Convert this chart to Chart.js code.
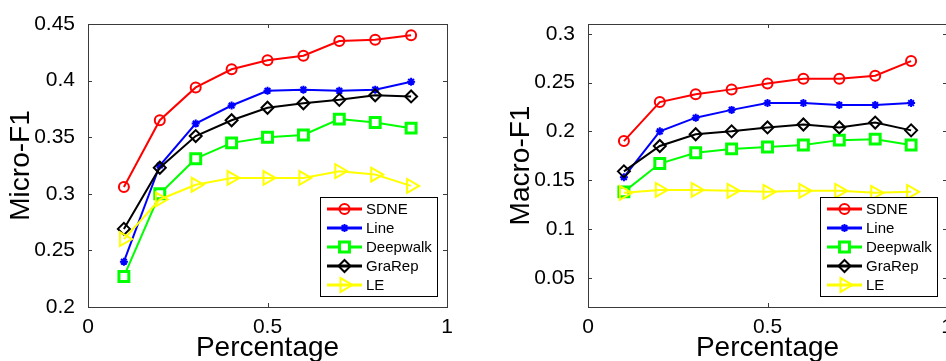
<!DOCTYPE html>
<html>
<head>
<meta charset="utf-8">
<script src="https://cdn.jsdelivr.net/npm/chart.js"></script>
<style>
  body { margin: 0; width: 946px; height: 361px; overflow: hidden; background: #fff; position: relative; }
  canvas { position: absolute; top: 0; }
  #micro { left: 0; }
  #macro { left: 500px; }
</style>
</head>
<body>
<canvas id="micro" width="470" height="361"></canvas>
<canvas id="macro" width="470" height="361"></canvas>
<script>
// training percentage on the x axis
const percentages = [0.1, 0.2, 0.3, 0.4, 0.5, 0.6, 0.7, 0.8, 0.9];
const methods = ["SDNE", "Line", "Deepwalk", "GraRep", "LE"];

// Micro-F1
const microSDNE = [0.306, 0.365, 0.394, 0.410, 0.418, 0.422, 0.435, 0.436, 0.440];
const microLine = [0.240, 0.325, 0.362, 0.378, 0.391, 0.392, 0.391, 0.392, 0.399];
const microDeepwalk = [0.227, 0.300, 0.331, 0.345, 0.350, 0.352, 0.366, 0.363, 0.358];
const microGraRep = [0.269, 0.323, 0.351, 0.365, 0.376, 0.380, 0.383, 0.387, 0.386];
const microLE = [0.260, 0.295, 0.308, 0.314, 0.314, 0.314, 0.320, 0.317, 0.307];

// Macro-F1
const macroSDNE = [0.190, 0.230, 0.238, 0.243, 0.249, 0.254, 0.254, 0.257, 0.272];
const macroLine = [0.153, 0.200, 0.214, 0.222, 0.229, 0.229, 0.227, 0.227, 0.229];
const macroDeepwalk = [0.138, 0.167, 0.178, 0.182, 0.184, 0.186, 0.191, 0.192, 0.186];
const macroGraRep = [0.159, 0.185, 0.197, 0.200, 0.204, 0.207, 0.204, 0.209, 0.201];
const macroLE = [0.137, 0.140, 0.140, 0.139, 0.138, 0.139, 0.139, 0.137, 0.138];

const xTicks = [0, 0.5, 1];
const microTicks = [0.2, 0.25, 0.3, 0.35, 0.4, 0.45];
const macroTicks = [0.05, 0.1, 0.15, 0.2, 0.25, 0.3];

const FONT = "'Liberation Sans', Arial, Helvetica, sans-serif";
Chart.defaults.font.family = FONT;

const looks = [
  { color: "#ff0000", pointStyle: "circle", radius: 5, bw: 2, bg: "rgba(255,255,255,0)", rot: 0 },
  { color: "#0000ff", pointStyle: "star", radius: 4, bw: 2, bg: "#0000ff", rot: 0 },
  { color: "#00ff00", pointStyle: "rect", radius: 7, bw: 3, bg: "#ffffff", rot: 0 },
  { color: "#000000", pointStyle: "rectRot", radius: 6, bw: 2, bg: "rgba(255,255,255,0)", rot: 0 },
  { color: "#ffff00", pointStyle: "triangle", radius: 8, bw: 2, bg: "rgba(255,255,255,0)", rot: 90 },
];

// matlab style box, inward ticks and legend inside the axes
const matlabBox = {
  id: "matlabBox",
  beforeDatasetsDraw(chart) {
    const { ctx, chartArea: a, scales } = chart;
    ctx.save();
    ctx.strokeStyle = "#3a3a3a";
    ctx.lineWidth = 1;
    ctx.strokeRect(a.left + 0.5, a.top + 0.5, a.right - a.left, a.bottom - a.top);
    ctx.beginPath();
    scales.x.ticks.forEach((t) => {
      const px = Math.round(scales.x.getPixelForValue(t.value)) + 0.5;
      ctx.moveTo(px, a.bottom); ctx.lineTo(px, a.bottom - 4);
      ctx.moveTo(px, a.top); ctx.lineTo(px, a.top + 4);
    });
    scales.y.ticks.forEach((t) => {
      const py = Math.round(scales.y.getPixelForValue(t.value)) + 0.5;
      ctx.moveTo(a.left, py); ctx.lineTo(a.left + 4, py);
      ctx.moveTo(a.right, py); ctx.lineTo(a.right - 4, py);
    });
    ctx.stroke();
    ctx.restore();
  },
  afterDatasetsDraw(chart) {
    const { ctx, chartArea: a } = chart;
    const w = 117, h = 99;
    const lx = Math.round(a.right - 10 - w), ly = Math.round(a.bottom - 11 - h);
    ctx.save();
    ctx.fillStyle = "#fff";
    ctx.fillRect(lx, ly, w, h);
    ctx.strokeStyle = "#000";
    ctx.lineWidth = 1;
    ctx.strokeRect(lx + 0.5, ly + 0.5, w, h);
    chart.data.datasets.forEach((ds, i) => {
      const y = ly + 12 + i * 19;
      ctx.strokeStyle = ds.borderColor;
      ctx.lineWidth = 3;
      ctx.beginPath();
      ctx.moveTo(lx + 7, y); ctx.lineTo(lx + 42, y);
      ctx.stroke();
      ctx.fillStyle = ds.pointBackgroundColor;
      ctx.lineWidth = ds.pointBorderWidth;
      Chart.helpers.drawPoint(ctx, {
        pointStyle: ds.pointStyle, radius: ds.pointRadius,
        rotation: ds.pointRotation, borderWidth: ds.pointBorderWidth
      }, lx + 24.5, y);
      ctx.fillStyle = "#000";
      ctx.font = "15px " + FONT;
      ctx.textBaseline = "middle";
      ctx.fillText(ds.label, lx + 46, y + 1);
    });
    ctx.restore();
  }
};

function makeChart(id, series, yMin, yMax, yTicks, yTitle) {
  const datasets = methods.map((m, i) => ({
    label: m,
    data: percentages.map((x, j) => ({ x: x, y: series[i][j] })),
    borderColor: looks[i].color,
    borderWidth: 2,
    pointStyle: looks[i].pointStyle,
    pointRadius: looks[i].radius,
    pointBorderWidth: looks[i].bw,
    pointBorderColor: looks[i].color,
    pointBackgroundColor: looks[i].bg,
    pointRotation: looks[i].rot,
    tension: 0,
    fill: false,
    order: 4 - i,
  }));

  return new Chart(document.getElementById(id), {
    type: "line",
    data: { datasets: datasets },
    options: {
      responsive: false,
      animation: false,
      layout: { padding: { left: 0, right: 23, top: 24, bottom: 0 } },
      plugins: { legend: { display: false }, tooltip: { enabled: false } },
      scales: {
        x: {
          type: "linear",
          min: 0,
          max: 1,
          afterBuildTicks: (s) => { s.ticks = xTicks.map((v) => ({ value: v })); },
          afterFit: (s) => { s.height = 54; },
          grid: { display: false },
          border: { display: false },
          ticks: { padding: 0, color: "#000", font: { size: 21 }, maxRotation: 0, callback: (v) => String(v) },
          title: {
            display: true, text: "Percentage", color: "#000",
            font: { size: 28, lineHeight: 1 }, padding: { top: 0, bottom: -1 }
          }
        },
        y: {
          type: "linear",
          min: yMin,
          max: yMax,
          afterBuildTicks: (s) => { s.ticks = yTicks.map((v) => ({ value: v })); },
          afterFit: (s) => { s.width = 88; },
          grid: { display: false },
          border: { display: false },
          ticks: { padding: 5, color: "#000", font: { size: 21 }, callback: (v) => String(+v.toFixed(2)) },
          title: {
            display: true, text: yTitle, color: "#000",
            font: { size: 28, lineHeight: 1 }, padding: { top: 7, bottom: 0 }
          }
        }
      }
    },
    plugins: [matlabBox]
  });
}

makeChart("micro", [microSDNE, microLine, microDeepwalk, microGraRep, microLE], 0.2, 0.45, microTicks, "Micro-F1");
makeChart("macro", [macroSDNE, macroLine, macroDeepwalk, macroGraRep, macroLE], 0.02, 0.31, macroTicks, "Macro-F1");
</script>
</body>
</html>
